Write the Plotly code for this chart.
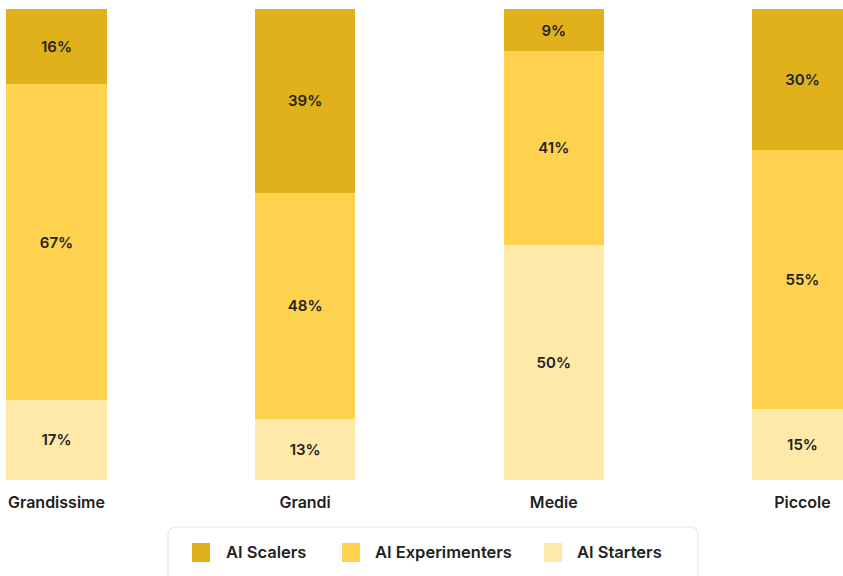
import plotly.graph_objects as go

categories = ["Grandissime", "Grandi", "Medie", "Piccole"]
series_names = ["AI Starters", "AI Experimenters", "AI Scalers"]
starters = [17, 13, 50, 15]
experimenters = [67, 48, 41, 55]
scalers = [16, 39, 9, 30]
colors = {"AI Scalers": "#E0B11B", "AI Experimenters": "#FED24E", "AI Starters": "#FEE9A8"}

W, H = 843, 576
ML, MR, MT, MB = 0, 0, 9, 96
PW, PH = W - ML - MR, H - MT - MB

def px_x(x):
    return (x - ML) / PW

def px_y(y):
    return (H - MB - y) / PH

FONT = "Inter"
TXT = "#222222"

fig = go.Figure()
for name, vals in [("AI Starters", starters), ("AI Experimenters", experimenters), ("AI Scalers", scalers)]:
    fig.add_trace(go.Bar(
        x=list(range(len(categories))), y=vals, name=name,
        marker=dict(color=colors[name], line=dict(width=0)),
        width=0.404,
        text=[f"{v}%" for v in vals],
        textposition="inside", insidetextanchor="middle",
        textfont=dict(family=FONT, size=15, color=TXT, weight=600),
        constraintext="none",
        showlegend=False, hoverinfo="skip",
    ))

fig.update_layout(
    barmode="stack", width=W, height=H,
    margin=dict(l=ML, r=MR, t=MT, b=MB),
    paper_bgcolor="white", plot_bgcolor="white",
    xaxis=dict(range=[-0.227, 3.163], tickvals=list(range(len(categories))), ticktext=categories,
               showgrid=False, zeroline=False, showline=False, ticks="",
               tickfont=dict(family=FONT, size=16, color=TXT, weight=600),
               ticklabelstandoff=11),
    yaxis=dict(range=[0, 100], visible=False),
    uniformtext=dict(mode=False),
)

# legend box (rounded)
x0, x1 = px_x(168), px_x(698)
y0, y1 = px_y(527), px_y(590)
rx, ry = 8 / PW, 8 / PH
path = (f"M {x0+rx},{y0} L {x1-rx},{y0} Q {x1},{y0} {x1},{y0-ry} "
        f"L {x1},{y1+ry} Q {x1},{y1} {x1-rx},{y1} L {x0+rx},{y1} Q {x0},{y1} {x0},{y1+ry} "
        f"L {x0},{y0-ry} Q {x0},{y0} {x0+rx},{y0} Z")
fig.add_shape(type="path", path=path, xref="paper", yref="paper",
              line=dict(color="#E6E6E6", width=1.2), fillcolor="white", layer="above")

legend_order = ["AI Scalers", "AI Experimenters", "AI Starters"]
square_x = [192, 342, 544]
text_x = [224, 373, 575]
for name, sx, tx in zip(legend_order, square_x, text_x):
    fig.add_shape(type="rect", xref="paper", yref="paper",
                  x0=px_x(sx), x1=px_x(sx + 18), y0=px_y(543), y1=px_y(562),
                  fillcolor=colors[name], line=dict(width=0), layer="above")
    fig.add_annotation(x=px_x(tx), y=px_y(552), xref="paper", yref="paper",
                       text=name, showarrow=False, xanchor="left", yanchor="middle",
                       font=dict(family=FONT, size=16.5, color=TXT, weight=600))

fig.write_html("out.html")
